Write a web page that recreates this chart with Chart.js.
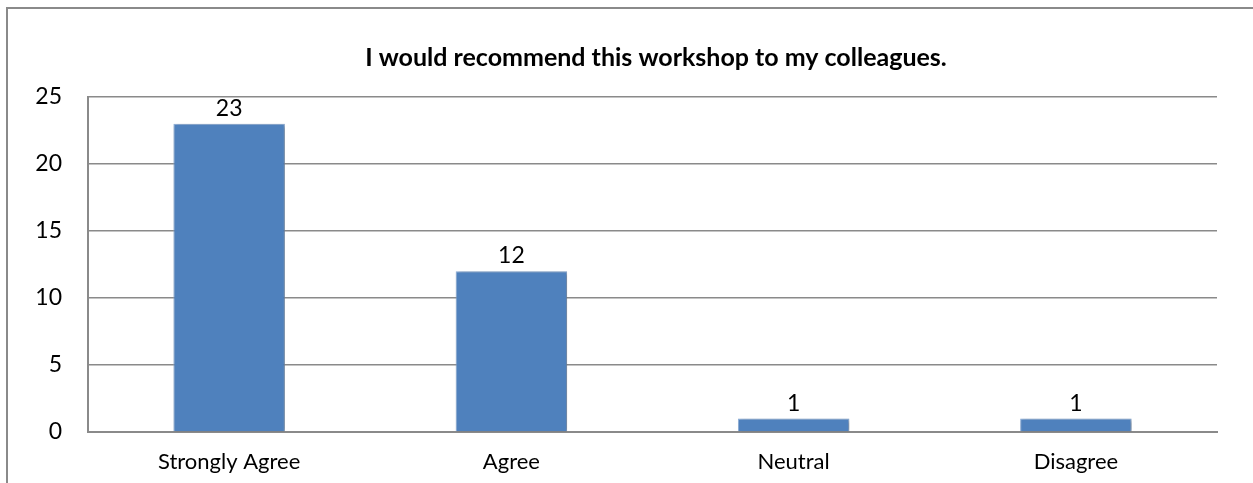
<!DOCTYPE html>
<html>
<head>
<meta charset="utf-8">
<script src="https://cdn.jsdelivr.net/npm/chart.js@4/dist/chart.umd.min.js"></script>
<style>
  html, body { margin: 0; padding: 0; background: #ffffff; overflow: hidden; }
  #frame { position: absolute; left: 6px; top: 7px; width: 1270px; height: 500px; border: 2px solid #8a8a8a; box-sizing: border-box; }
  #wrap { position: absolute; left: 0; top: 0; width: 1253px; height: 483px; }
</style>
</head>
<body>
<div id="frame"></div>
<div id="wrap"><canvas id="c" width="1253" height="483"></canvas></div>
<script>
const titleText = "I would recommend this workshop to my colleagues.";
const categories = ["Strongly Agree", "Agree", "Neutral", "Disagree"];
const responses = [23, 12, 1, 1];
const yTicks = [0, 5, 10, 15, 20, 25];

const FONT = "Lato, 'Open Sans', sans-serif";

const titlePlugin = {
  id: 'customTitle',
  afterDraw(chart) {
    const ctx = chart.ctx;
    ctx.save();
    ctx.font = "bold 25px " + FONT;
    ctx.fillStyle = "#000";
    ctx.textAlign = "center";
    ctx.textBaseline = "alphabetic";
    ctx.fillText(titleText, 656, 66);
    ctx.restore();
  }
};

const labelPlugin = {
  id: 'valueLabels',
  afterDatasetsDraw(chart) {
    const ctx = chart.ctx;
    const meta = chart.getDatasetMeta(0);
    ctx.save();
    ctx.font = "23px " + FONT;
    ctx.fillStyle = "#000";
    ctx.textAlign = "center";
    ctx.textBaseline = "alphabetic";
    meta.data.forEach((bar, i) => {
      ctx.fillText(String(chart.data.datasets[0].data[i]), bar.x, bar.y - 8);
    });
    ctx.restore();
  }
};

const shadowPlugin = {
  id: 'barShadow',
  beforeDatasetDraw(chart) {
    const ctx = chart.ctx;
    ctx.save();
    ctx.shadowColor = "rgba(0,0,0,0.35)";
    ctx.shadowBlur = 4;
    ctx.shadowOffsetX = 2;
    ctx.shadowOffsetY = 1;
  },
  afterDatasetDraw(chart) {
    chart.ctx.restore();
  }
};

new Chart(document.getElementById('c'), {
  type: 'bar',
  data: {
    labels: categories,
    datasets: [{
      data: responses,
      backgroundColor: '#4f81bd',
      borderColor: '#8fb0da',
      borderWidth: 1,
      barPercentage: 0.79,
      categoryPercentage: 0.5
    }]
  },
  options: {
    responsive: false,
    animation: false,
    devicePixelRatio: 1,
    layout: { padding: { top: 97, right: 36, left: 0, bottom: 0 } },
    plugins: {
      legend: { display: false },
      tooltip: { enabled: false },
      title: { display: false }
    },
    scales: {
      x: {
        afterFit(s) { s.height = 51; },
        grid: { display: false, drawTicks: false },
        border: { display: true, color: '#8a8a8a', width: 2 },
        ticks: { color: '#000', font: { family: FONT, size: 22 }, padding: 17 }
      },
      y: {
        min: 0,
        max: 25,
        afterFit(s) { s.width = 88; },
        afterBuildTicks(s) { s.ticks = yTicks.map(v => ({ value: v })); },
        grid: { color: '#8a8a8a', lineWidth: 1.5, drawTicks: false },
        border: { display: true, color: '#8a8a8a', width: 2 },
        ticks: { color: '#000', font: { family: FONT, size: 23 }, padding: 26 }
      }
    }
  },
  plugins: [titlePlugin, labelPlugin, shadowPlugin]
});
</script>
</body>
</html>
